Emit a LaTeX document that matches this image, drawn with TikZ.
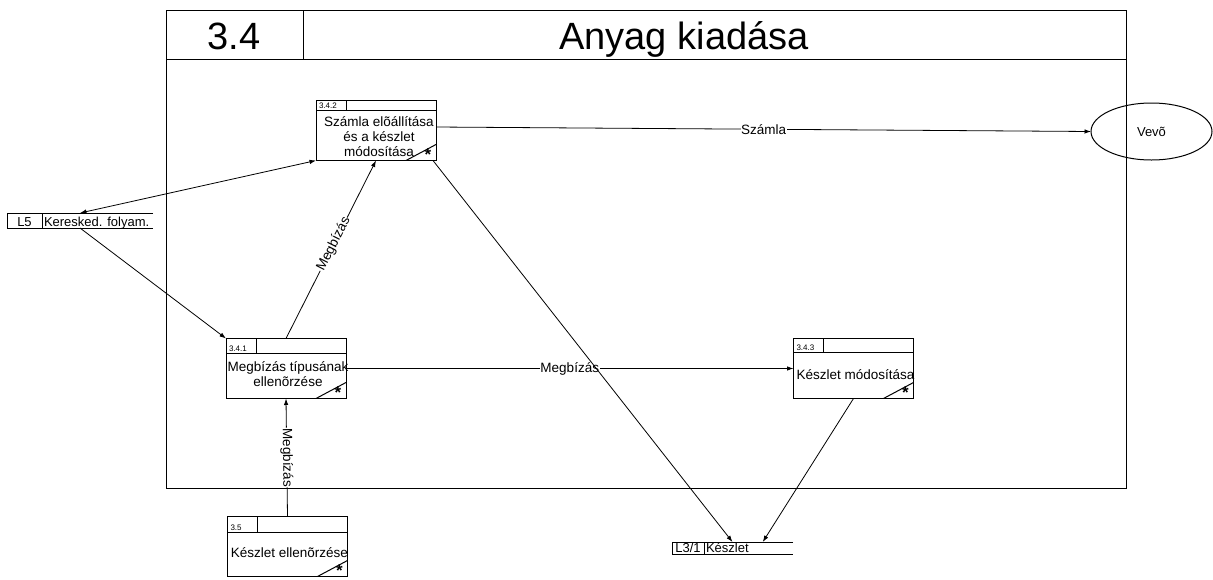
\documentclass[tikz,border=0pt]{standalone}
\usepackage{fontspec}
\setmainfont{Liberation Sans}
\usetikzlibrary{arrows.meta,shapes.geometric,calc}

% details of a process box: header rule, id cell, id number, corner slash, star
\newcommand\procparts[3]{%
  \draw[boxline] ([yshift=-#2]#1.north west) -- ([yshift=-#2]#1.north east);
  \draw[boxline] ([xshift=30pt]#1.north west) -- ([xshift=30pt,yshift=-#2]#1.north west);
  \node[idtext, anchor=base west] at ([xshift=3pt,yshift={-#2+2pt}]#1.north west) {#3};
  \draw[boxline] ([yshift=16pt]#1.south east) -- ([xshift=-30pt]#1.south east);
  \node[startext, anchor=base] at ([xshift=-8pt,yshift=0.5pt]#1.south east) {*};
}

\begin{document}
\begin{tikzpicture}[x=1pt,y=-1pt,
  every node/.style={inner sep=0pt, outer sep=0pt},
  boxline/.style={line width=1pt, black},
  procbox/.style={draw, line width=1pt, minimum width=120pt, minimum height=60pt},
  idtext/.style={font=\fontsize{8}{9}\selectfont},
  bodytext/.style={font=\fontsize{13.5}{15}\selectfont, align=center},
  startext/.style={font=\fontsize{17}{17}\selectfont\bfseries},
  storetext/.style={font=\fontsize{13}{14}\selectfont},
  flow/.style={line width=0.8pt, -{Latex[length=6.5pt,width=4.5pt]}},
  flowboth/.style={line width=0.8pt, {Latex[length=6.5pt,width=4.5pt]}-{Latex[length=6.5pt,width=4.5pt]}},
  lbl/.style={font=\fontsize{13.5}{15}\selectfont, fill=white, inner sep=0.5pt}
]
\useasboundingbox (0,0) rectangle (1213,579);

% outer frame with title row
\node[draw, line width=1pt, minimum width=960pt, minimum height=478pt, anchor=north west] (frame) at (166,10) {};
\draw[boxline] ([yshift=-49pt]frame.north west) -- ([yshift=-49pt]frame.north east);
\draw[boxline] ([xshift=137pt]frame.north west) -- ([xshift=137pt,yshift=-49pt]frame.north west);
\node[anchor=base, font=\fontsize{38}{40}\selectfont] (num) at (234,49) {3.4};
\node[anchor=base, font=\fontsize{38}{40}\selectfont] (title) at (684,49) {Anyag kiadása};

% processes
\node[procbox] (p342) at (376,130.5) {};
\procparts{p342}{10pt}{3.4.2}
\node[bodytext] (t342) at ([xshift=3pt,yshift=-6.2pt]p342.center) {Számla elõállítása\\és a készlet\\módosítása};

\node[procbox] (p341) at (286,368.5) {};
\procparts{p341}{15pt}{3.4.1}
\node[bodytext] (t341) at ([xshift=2pt,yshift=-6pt]p341.center) {Megbízás típusának\\ellenõrzése};

\node[procbox] (p343) at (853.5,368.5) {};
\procparts{p343}{14pt}{3.4.3}
\node[bodytext] (t343) at ([xshift=2pt,yshift=-6.5pt]p343.center) {Készlet módosítása};

\node[procbox] (p35) at (287.5,546.5) {};
\procparts{p35}{16pt}{3.5}
\node[bodytext] (t35) at ([xshift=2pt,yshift=-6.5pt]p35.center) {Készlet ellenõrzése};

% external entity
\node[draw, line width=1pt, ellipse, minimum width=121pt, minimum height=57pt] (vevo) at (1151.5,131.5) {};
\node[font=\fontsize{13}{14}\selectfont] (tvevo) at (vevo.center) {Vevõ};

% data stores
\node[minimum width=146pt, minimum height=15pt] (l5) at (80,220.5) {};
\draw[boxline] (l5.north east) -- (l5.north west) -- (l5.south west) -- (l5.south east);
\draw[boxline] ([xshift=35pt]l5.north west) -- ([xshift=35pt]l5.south west);
\node[storetext, anchor=base] (l5id) at ([xshift=17.5pt,yshift=-5.5pt]l5.west) {L5};
\node[storetext, anchor=base west] (l5name) at ([xshift=37pt,yshift=-5.5pt]l5.west) {Keresked. folyam.};

\node[minimum width=121pt, minimum height=12pt] (l31) at (732.5,548) {};
\draw[boxline] (l31.north east) -- (l31.north west) -- (l31.south west) -- (l31.south east);
\draw[boxline] ([xshift=32pt]l31.north west) -- ([xshift=32pt]l31.south west);
\node[storetext, anchor=base] (l31id) at ([xshift=16pt,yshift=-4.7pt]l31.west) {L3/1};
\node[storetext, anchor=base west] (l31name) at ([xshift=34pt,yshift=-4.7pt]l31.west) {Készlet};

% data flows
\draw[flow] ([yshift=3.5pt]p342.east) -- node[lbl] {Számla} (vevo.west);
\draw[flowboth] (l5.north) -- (p342.south west);
\draw[flow] (l5.south) -- (p341.north west);
\draw[flow] (p341.north) -- node[lbl, sloped, pos=0.53] {Megbízás} (p342.south);
\draw[flow] (p341.east) -- node[lbl] {Megbízás} (p343.west);
\draw[flow] (p35.north) -- node[lbl, sloped] {Megbízás} (p341.south);
\draw[flow] ([xshift=-3pt]p342.south east) -- (l31.north);
\draw[flow] (p343.south) -- ($(l31.north)!0.5!(l31.north east)$);
\end{tikzpicture}
\end{document}
